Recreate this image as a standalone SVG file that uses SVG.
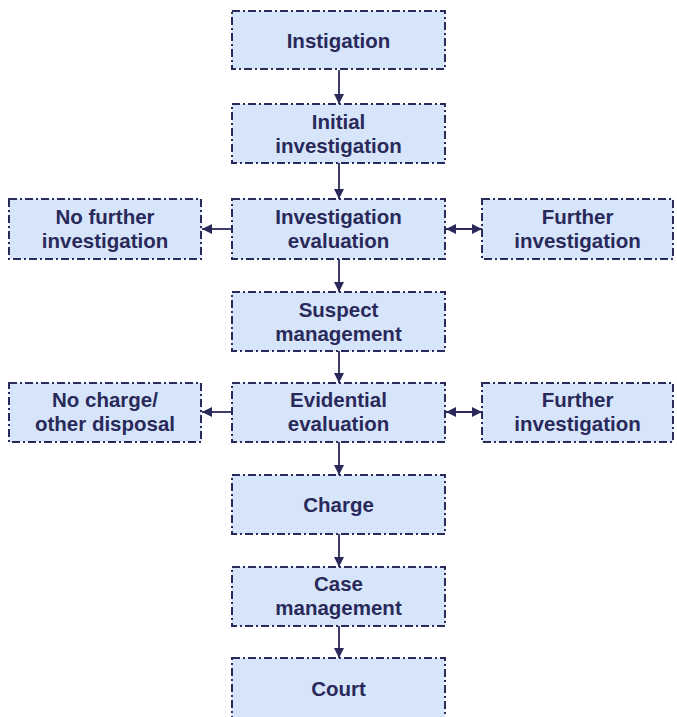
<svg xmlns="http://www.w3.org/2000/svg" width="677" height="717" viewBox="0 0 677 717">
  <style>
    .box { fill: #d7e5fb; stroke: #29295a; stroke-width: 2; stroke-dasharray: 8 3 2 3; }
    .lbl { font-family: "Liberation Sans", Arial, Helvetica, sans-serif; font-weight: bold; font-size: 20.5px; fill: #29295a; text-anchor: middle; }
    .edge { stroke: #29295a; stroke-width: 1.8; fill: none; }
  </style>
  <defs>
    <marker id="arrow" viewBox="0 0 10 10" refX="10" refY="5" markerWidth="10" markerHeight="10" markerUnits="userSpaceOnUse" orient="auto-start-reverse">
      <path d="M0,0 L10,5 L0,10 z" fill="#29295a"/>
    </marker>
  </defs>
  <rect width="677" height="717" fill="#ffffff"/>

  <g id="connectors">
    <line class="edge" x1="339" y1="70" x2="339" y2="104" marker-end="url(#arrow)"/>
    <line class="edge" x1="339" y1="163" x2="339" y2="199" marker-end="url(#arrow)"/>
    <line class="edge" x1="339" y1="259" x2="339" y2="292" marker-end="url(#arrow)"/>
    <line class="edge" x1="339" y1="351" x2="339" y2="383" marker-end="url(#arrow)"/>
    <line class="edge" x1="339" y1="442" x2="339" y2="475" marker-end="url(#arrow)"/>
    <line class="edge" x1="339" y1="534" x2="339" y2="567" marker-end="url(#arrow)"/>
    <line class="edge" x1="339" y1="626" x2="339" y2="658" marker-end="url(#arrow)"/>
    <line class="edge" x1="232" y1="229" x2="202" y2="229" marker-end="url(#arrow)"/>
    <line class="edge" x1="446" y1="229" x2="482" y2="229" marker-start="url(#arrow)" marker-end="url(#arrow)"/>
    <line class="edge" x1="232" y1="412" x2="202" y2="412" marker-end="url(#arrow)"/>
    <line class="edge" x1="446" y1="412" x2="482" y2="412" marker-start="url(#arrow)" marker-end="url(#arrow)"/>
  </g>

  <g id="instigation">
    <rect class="box" x="232" y="11" width="213" height="58"/>
    <text class="lbl" x="338.5" y="48">Instigation</text>
  </g>
  <g id="initial-investigation">
    <rect class="box" x="232" y="104" width="213" height="59"/>
    <text class="lbl" x="338.5" y="129">Initial</text>
    <text class="lbl" x="338.5" y="153">investigation</text>
  </g>
  <g id="investigation-evaluation">
    <rect class="box" x="232" y="199" width="213" height="60"/>
    <text class="lbl" x="338.5" y="224">Investigation</text>
    <text class="lbl" x="338.5" y="248">evaluation</text>
  </g>
  <g id="no-further-investigation">
    <rect class="box" x="9" y="199" width="192" height="60"/>
    <text class="lbl" x="105" y="224">No further</text>
    <text class="lbl" x="105" y="248">investigation</text>
  </g>
  <g id="further-investigation-1">
    <rect class="box" x="482" y="199" width="191" height="60"/>
    <text class="lbl" x="577.5" y="224">Further</text>
    <text class="lbl" x="577.5" y="248">investigation</text>
  </g>
  <g id="suspect-management">
    <rect class="box" x="232" y="292" width="213" height="59"/>
    <text class="lbl" x="338.5" y="317">Suspect</text>
    <text class="lbl" x="338.5" y="341">management</text>
  </g>
  <g id="evidential-evaluation">
    <rect class="box" x="232" y="383" width="213" height="59"/>
    <text class="lbl" x="338.5" y="407">Evidential</text>
    <text class="lbl" x="338.5" y="431">evaluation</text>
  </g>
  <g id="no-charge">
    <rect class="box" x="9" y="383" width="192" height="59"/>
    <text class="lbl" x="105" y="407">No charge/</text>
    <text class="lbl" x="105" y="431">other disposal</text>
  </g>
  <g id="further-investigation-2">
    <rect class="box" x="482" y="383" width="191" height="59"/>
    <text class="lbl" x="577.5" y="407">Further</text>
    <text class="lbl" x="577.5" y="431">investigation</text>
  </g>
  <g id="charge">
    <rect class="box" x="232" y="475" width="213" height="59"/>
    <text class="lbl" x="338.5" y="512">Charge</text>
  </g>
  <g id="case-management">
    <rect class="box" x="232" y="567" width="213" height="59"/>
    <text class="lbl" x="338.5" y="591">Case</text>
    <text class="lbl" x="338.5" y="615">management</text>
  </g>
  <g id="court">
    <rect class="box" x="232" y="658" width="213" height="60"/>
    <text class="lbl" x="338.5" y="696">Court</text>
  </g>
</svg>
